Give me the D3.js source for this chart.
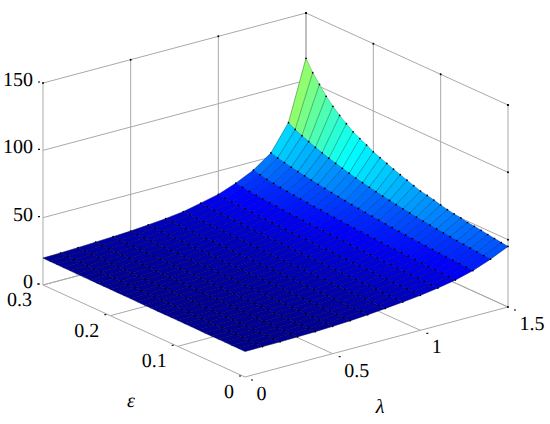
<!DOCTYPE html>
<html><head><meta charset="utf-8">
<script src="https://cdn.jsdelivr.net/npm/d3@7"></script>
<style>html,body{margin:0;padding:0;background:#fff}svg{display:block}
text{font-family:"Liberation Serif","Times New Roman",serif;font-size:20px;fill:#000;text-rendering:geometricPrecision}</style>
</head><body><svg id="c" width="550" height="424"></svg>
<script>
const lambdaValues=[0,0.1,0.2,0.3,0.4,0.5,0.6,0.7,0.8,0.9,1.0,1.1,1.2,1.3,1.4,1.5];
const epsilonValues=[0,0.01,0.02,0.03,0.04,0.05,0.06,0.07,0.08,0.09,0.1,0.11,0.12,0.13,0.14,0.15,0.16,0.17,0.18,0.19,0.2,0.21,0.22,0.23,0.24,0.25,0.26,0.27,0.28,0.29,0.3];
const zLam00=[19,19,19,19.1,19.1,19.1,19.1,19.2,19.2,19.2,19.3,19.3,19.3,19.3,19.4,19.4,19.4,19.5,19.5,19.5,19.6,19.6,19.6,19.7,19.7,19.7,19.8,19.8,19.9,19.9,20];
const zLam01=[19.1,19.1,19.1,19.2,19.2,19.2,19.3,19.3,19.3,19.4,19.4,19.4,19.5,19.5,19.5,19.6,19.6,19.6,19.7,19.7,19.7,19.8,19.8,19.9,19.9,19.9,20,20,20.1,20.2,20.3];
const zLam02=[19.2,19.2,19.3,19.3,19.4,19.4,19.4,19.5,19.5,19.6,19.6,19.6,19.7,19.7,19.8,19.8,19.9,19.9,20,20,20,20.1,20.1,20.2,20.3,20.3,20.4,20.5,20.5,20.6,20.8];
const zLam03=[19.5,19.5,19.6,19.6,19.7,19.7,19.8,19.8,19.9,19.9,20,20,20.1,20.1,20.2,20.2,20.3,20.4,20.4,20.5,20.5,20.6,20.7,20.7,20.8,20.9,21,21,21.1,21.2,21.4];
const zLam04=[19.8,19.9,19.9,20,20,20.1,20.2,20.2,20.3,20.3,20.4,20.5,20.5,20.6,20.6,20.7,20.8,20.8,20.9,21,21,21.1,21.2,21.2,21.3,21.4,21.5,21.6,21.7,21.8,22];
const zLam05=[20.3,20.4,20.4,20.5,20.6,20.7,20.7,20.8,20.9,20.9,21,21.1,21.1,21.2,21.3,21.4,21.4,21.5,21.6,21.7,21.7,21.8,21.9,22,22,22.1,22.2,22.3,22.4,22.5,22.7];
const zLam06=[21,21.1,21.2,21.3,21.3,21.4,21.5,21.6,21.6,21.7,21.8,21.9,22,22,22.1,22.2,22.3,22.4,22.5,22.6,22.6,22.7,22.8,22.9,23,23.1,23.2,23.4,23.5,23.6,23.8];
const zLam07=[22,22.1,22.2,22.2,22.3,22.4,22.5,22.6,22.6,22.7,22.8,22.9,23,23.1,23.2,23.3,23.4,23.5,23.6,23.7,23.8,23.9,24,24.1,24.2,24.3,24.4,24.5,24.7,24.8,25];
const zLam08=[23.2,23.3,23.4,23.4,23.5,23.6,23.7,23.8,23.9,24,24.1,24.2,24.3,24.4,24.5,24.6,24.7,24.9,25,25.1,25.2,25.4,25.5,25.6,25.8,25.9,26.1,26.2,26.4,26.5,26.7];
const zLam09=[24.5,24.6,24.7,24.8,24.9,25,25.1,25.3,25.4,25.5,25.6,25.8,25.9,26.1,26.2,26.4,26.5,26.7,26.8,27,27.2,27.4,27.6,27.8,28,28.2,28.4,28.6,28.9,29.2,29.6];
const zLam10=[26,26.1,26.3,26.4,26.5,26.7,26.8,27,27.1,27.3,27.5,27.6,27.8,28,28.2,28.4,28.6,28.8,29,29.2,29.4,29.7,29.9,30.2,30.4,30.7,31,31.3,31.6,32.1,32.6];
const zLam11=[28,28.2,28.3,28.5,28.7,28.9,29.1,29.3,29.5,29.7,29.9,30.2,30.4,30.6,30.9,31.2,31.4,31.7,32,32.3,32.6,33,33.3,33.7,34.1,34.5,34.9,35.4,35.9,36.7,37.5];
const zLam12=[30.5,30.7,30.9,31.2,31.4,31.7,31.9,32.2,32.5,32.8,33.1,33.4,33.7,34.1,34.4,34.8,35.2,35.6,36,36.4,36.9,37.3,37.8,38.3,38.8,39.4,40,40.7,41.4,42.5,43.7];
const zLam13=[34,34.3,34.6,34.9,35.3,35.6,36,36.4,36.8,37.2,37.7,38.1,38.6,39.1,39.6,40.2,40.8,41.4,42,42.7,43.4,44.1,44.9,45.7,46.5,47.4,48.3,49.3,50.4,51.6,53];
const zLam14=[39,39.4,39.9,40.4,40.9,41.4,42,42.6,43.2,43.8,44.5,45.2,46,46.8,47.6,48.5,49.4,50.4,51.4,52.5,53.7,55,56.4,57.8,59.3,61,62.8,64.8,66.9,69.3,72];
const zLam15=[45,45.6,46.3,47,47.9,48.5,49.1,50.2,50.9,51.8,53,54.4,55.5,56.5,58.2,60,61.8,63.6,65.6,67.6,69.7,72.4,75,77.7,81.5,85.3,89.8,95,101.5,108,116.4];
const zGrid=[zLam00,zLam01,zLam02,zLam03,zLam04,zLam05,zLam06,zLam07,zLam08,zLam09,zLam10,zLam11,zLam12,zLam13,zLam14,zLam15];
const zTicks=[0,50,100,150], epsTicks=[0,0.1,0.2,0.3], lamTicks=[0,0.5,1,1.5];
const zTickLabels=["0","50","100","150"], epsTickLabels=["0","0.1","0.2","0.3"], lamTickLabels=["0","0.5","1","1.5"];

// oblique projection of the 3-D box, built from linear scales
const lamX=d3.scaleLinear().domain([0,1.5]).range([245,508]);
const lamY=d3.scaleLinear().domain([0,1.5]).range([377,307]);
const epsX=d3.scaleLinear().domain([0,0.3]).range([0,-202]);
const epsY=d3.scaleLinear().domain([0,0.3]).range([0,-92]);
const zS=d3.scaleLinear().domain([0,150]).range([0,-202]);
const P=(l,e,z)=>[lamX(l)+epsX(e),lamY(l)+epsY(e)+zS(z)];
const lmax=1.5,emax=0.3,zmax=150;

const flat=zGrid.flat();
const zMin=d3.min(flat),zMax=d3.max(flat);
const jet=d3.scaleLinear()
  .domain([0,0.125,0.375,0.625,0.875,1].map(t=>zMin+t*(zMax-zMin)))
  .range(["#00008f","#0000ff","#00ffff","#ffff00","#ff0000","#800000"])
  .interpolate(d3.interpolateRgb)
  .clamp(true);

const svg=d3.select("#c");
const wall=svg.append("g").attr("stroke","#a9a9a9").attr("stroke-width",1).attr("fill","none");
const seg=(g,a,b)=>g.append("line").attr("x1",a[0]).attr("y1",a[1]).attr("x2",b[0]).attr("y2",b[1]);

// walls and floor
zTicks.forEach(z=>{seg(wall,P(0,emax,z),P(lmax,emax,z));seg(wall,P(lmax,emax,z),P(lmax,0,z));});
lamTicks.forEach(l=>{seg(wall,P(l,emax,0),P(l,emax,zmax));seg(wall,P(l,0,0),P(l,emax,0));});
epsTicks.forEach(e=>{seg(wall,P(lmax,e,0),P(lmax,e,zmax));seg(wall,P(0,e,0),P(lmax,e,0));});

// surface, painted back to front
const surf=svg.append("g");
const line=d3.line();
const nL=lambdaValues.length,nE=epsilonValues.length;
for(let i=nL-2;i>=0;i--){
  for(let j=nE-2;j>=0;j--){
    const a=P(lambdaValues[i],epsilonValues[j],zGrid[i][j]),
          b=P(lambdaValues[i+1],epsilonValues[j],zGrid[i+1][j]),
          c=P(lambdaValues[i+1],epsilonValues[j+1],zGrid[i+1][j+1]),
          d=P(lambdaValues[i],epsilonValues[j+1],zGrid[i][j+1]);
    const col=jet(zGrid[i][j]);
    surf.append("path").attr("d",line([a,b,c,d])+"Z").attr("fill",col).attr("stroke",col).attr("stroke-width",0.4);
  }
}
// mesh lines: constant epsilon (fine) and constant lambda (coarse)
const epsLines=svg.append("g").attr("fill","none").attr("stroke","#000").attr("stroke-opacity",0.5).attr("stroke-width",0.6);
epsilonValues.forEach((e,j)=>epsLines.append("path").attr("d",line(lambdaValues.map((l,i)=>P(l,e,zGrid[i][j])))));
const lamLines=svg.append("g").attr("fill","none").attr("stroke","#000").attr("stroke-opacity",0.3).attr("stroke-width",0.6);
lambdaValues.forEach((l,i)=>lamLines.append("path").attr("d",line(epsilonValues.map((e,j)=>P(l,e,zGrid[i][j])))));

// vertex markers
const dots=svg.append("g").attr("fill","#000");
const dot=(p,r)=>dots.append("circle").attr("cx",p[0]).attr("cy",p[1]).attr("r",r);
lambdaValues.forEach((l,i)=>{ if(i==0) return;
  epsilonValues.forEach((e,j)=>{ dot(P(l,e,zGrid[i][j]),0.85); });
});

// tick dots
lamTicks.forEach(l=>dot(P(l,emax,zmax),1));
epsTicks.forEach(e=>dot(P(lmax,e,zmax),1));
zTicks.forEach(z=>{dot(P(lmax,0,z),1);});

// tick dashes
const tk=svg.append("g").attr("stroke","#000").attr("stroke-width",1.1);
const dash=(p,dx,dy)=>seg(tk,[p[0]+dx,p[1]+dy],[p[0]+dx+2,p[1]+dy]);
zTicks.forEach(z=>dash(P(0,emax,z),-5,-1));
epsTicks.forEach(e=>dash(P(0,e,0),-6,-1));
lamTicks.forEach(l=>dash(P(l,0,0),6,3));

// labels (anchored to the tick position)
const lab=svg.append("g");
const txt=(p,dx,dy,s,anchor)=>lab.append("text").attr("x",p[0]+dx).attr("y",p[1]+dy).attr("text-anchor",anchor||"end").text(s);
zTicks.forEach((z,i)=>txt(P(0,emax,z),-10,3,zTickLabels[i]));
epsTicks.forEach((e,i)=>txt(P(0,e,0),-11,21,epsTickLabels[i]));
lamTicks.forEach((l,i)=>txt(P(l,0,0),11.5,23,lamTickLabels[i],"start"));
lab.append("text").attr("x",131).attr("y",407).attr("text-anchor","middle").attr("font-style","italic").text("ε");
lab.append("text").attr("x",380).attr("y",413).attr("text-anchor","middle").attr("font-style","italic").text("λ");
</script></body></html>
